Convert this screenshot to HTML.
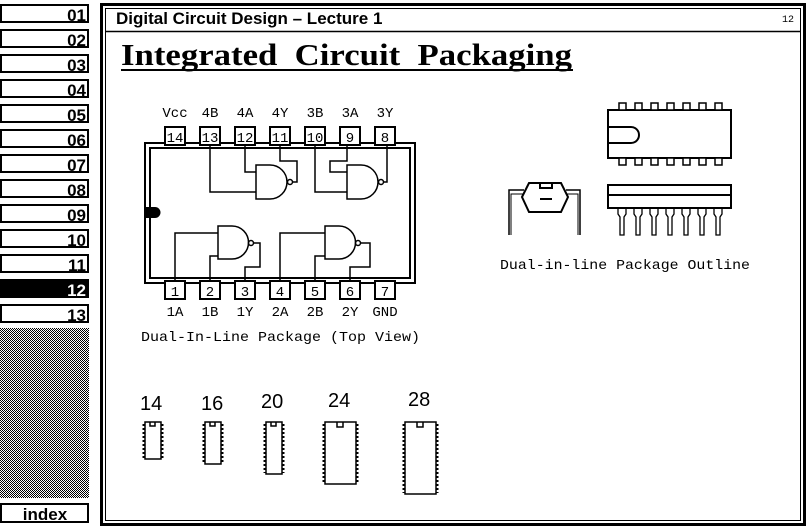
<!DOCTYPE html>
<html><head><meta charset="utf-8"><style>
html,body{margin:0;padding:0;background:#fff;}
svg{display:block;}
.m{font-family:"Liberation Mono",monospace;font-size:14px;}
</style></head><body>
<svg width="807" height="527" viewBox="0 0 807 527" xmlns="http://www.w3.org/2000/svg">
<defs>
<pattern id="chk" width="2" height="2" patternUnits="userSpaceOnUse">
<rect width="2" height="2" fill="#fff"/><rect width="1" height="1" fill="#000"/><rect x="1" y="1" width="1" height="1" fill="#000"/>
</pattern>
</defs>
<!-- sidebar -->
<g font-family="Liberation Sans, sans-serif" font-weight="bold" font-size="17" text-anchor="end" stroke="none">
<g fill="none" stroke="#000" stroke-width="2">
<rect x="1" y="5" width="87" height="17"/>
<rect x="1" y="30" width="87" height="17"/>
<rect x="1" y="55" width="87" height="17"/>
<rect x="1" y="80" width="87" height="17"/>
<rect x="1" y="105" width="87" height="17"/>
<rect x="1" y="130" width="87" height="17"/>
<rect x="1" y="155" width="87" height="17"/>
<rect x="1" y="180" width="87" height="17"/>
<rect x="1" y="205" width="87" height="17"/>
<rect x="1" y="230" width="87" height="17"/>
<rect x="1" y="255" width="87" height="17"/>
<rect x="1" y="305" width="87" height="17"/>
<rect x="1" y="504" width="87" height="18"/>
</g>
<rect x="0" y="279" width="89" height="19" fill="#000"/>
<rect x="0" y="328" width="89" height="170" fill="url(#chk)"/>
<text x="86" y="21">01</text>
<text x="86" y="46">02</text>
<text x="86" y="71">03</text>
<text x="86" y="96">04</text>
<text x="86" y="121">05</text>
<text x="86" y="146">06</text>
<text x="86" y="171">07</text>
<text x="86" y="196">08</text>
<text x="86" y="221">09</text>
<text x="86" y="246">10</text>
<text x="86" y="271">11</text>
<text x="86" y="296" fill="#fff">12</text>
<text x="86" y="321">13</text>
<text x="45" y="520" text-anchor="middle">index</text>
</g>
<!-- frame -->
<rect x="101.5" y="4.5" width="703" height="520" fill="none" stroke="#000" stroke-width="3"/>
<rect x="105.5" y="8.5" width="695" height="512" fill="none" stroke="#000" stroke-width="1"/>
<line x1="105" y1="31.5" x2="801" y2="31.5" stroke="#000" stroke-width="1.5"/>
<text x="116" y="24" font-family="Liberation Sans, sans-serif" font-weight="bold" font-size="17">Digital Circuit Design – Lecture 1</text>
<text x="794" y="22" font-family="Liberation Mono, monospace" font-size="10" text-anchor="end">12</text>
<text x="121" y="65" font-family="Liberation Serif, serif" font-weight="bold" font-size="31" xml:space="preserve" textLength="451" lengthAdjust="spacingAndGlyphs">Integrated  Circuit  Packaging</text>
<line x1="121" y1="70" x2="573" y2="70" stroke="#000" stroke-width="2"/>

<!-- main chip -->
<g fill="none" stroke="#000" stroke-width="2">
<rect x="145" y="143" width="270" height="140"/>
<rect x="150" y="148" width="260" height="130"/>
</g>
<path d="M145 207 h10 a5.5 5.5 0 0 1 0 11 h-10 z" fill="#000"/>
<g fill="#fff" stroke="#000" stroke-width="2">
<rect x="165" y="127" width="20" height="18"/><rect x="200" y="127" width="20" height="18"/><rect x="235" y="127" width="20" height="18"/><rect x="270" y="127" width="20" height="18"/><rect x="305" y="127" width="20" height="18"/><rect x="340" y="127" width="20" height="18"/><rect x="375" y="127" width="20" height="18"/>
<rect x="165" y="281" width="20" height="18"/><rect x="200" y="281" width="20" height="18"/><rect x="235" y="281" width="20" height="18"/><rect x="270" y="281" width="20" height="18"/><rect x="305" y="281" width="20" height="18"/><rect x="340" y="281" width="20" height="18"/><rect x="375" y="281" width="20" height="18"/>
</g>
<g class="m" text-anchor="middle">
<text x="175" y="142">14</text><text x="210" y="142">13</text><text x="245" y="142">12</text><text x="280" y="142">11</text><text x="315" y="142">10</text><text x="350" y="142">9</text><text x="385" y="142">8</text>
<text x="175" y="296">1</text><text x="210" y="296">2</text><text x="245" y="296">3</text><text x="280" y="296">4</text><text x="315" y="296">5</text><text x="350" y="296">6</text><text x="385" y="296">7</text>
<text x="175" y="117">Vcc</text><text x="210" y="117">4B</text><text x="245" y="117">4A</text><text x="280" y="117">4Y</text><text x="315" y="117">3B</text><text x="350" y="117">3A</text><text x="385" y="117">3Y</text>
<text x="175" y="316">1A</text><text x="210" y="316">1B</text><text x="245" y="316">1Y</text><text x="280" y="316">2A</text><text x="315" y="316">2B</text><text x="350" y="316">2Y</text><text x="385" y="316">GND</text>
</g>
<text x="141" y="341" class="m" textLength="279" lengthAdjust="spacingAndGlyphs">Dual-In-Line Package (Top View)</text>
<!-- gates -->
<g fill="none" stroke="#000" stroke-width="1.5">
<path d="M256 165 h14 a17 17 0 0 1 0 34 h-14 z"/><circle cx="290" cy="182" r="2.5"/>
<path d="M210 146 V192 H256 M245 146 V172 H256 M292.5 182 H297 V161 H280 V146"/>
<path d="M347 165 h14 a17 17 0 0 1 0 34 h-14 z"/><circle cx="381" cy="182" r="2.5"/>
<path d="M315 146 V192 H347 M347 146 V161 H330 V172 H347 M383.5 182 H387 V146"/>
<path d="M218 226 h14 a16.5 16.5 0 0 1 0 33 h-14 z"/><circle cx="251" cy="243" r="2.5"/>
<path d="M175 281 V233 H218 M210 281 V256 H218 M253.5 243 H260 V267 H245 V281"/>
<path d="M325 226 h14 a16.5 16.5 0 0 1 0 33 h-14 z"/><circle cx="358" cy="243" r="2.5"/>
<path d="M280 281 V233 H325 M315 281 V256 H325 M360.5 243 H370 V267 H350 V281"/>
</g>

<!-- outline top view -->
<g fill="none" stroke="#000" stroke-width="2">
<rect x="608" y="110" width="123" height="48"/>
<path d="M608 127 H631 a8 8 0 0 1 0 16 H608"/>
<path d="M608 185 H731 V208 H608 Z M608 195 H731"/>
<path d="M522 197 L529 183 H561 L568 197 L561 212 H529 Z"/>
<path d="M540 183 V188 H552 V183"/>
<path d="M540 199 H552"/>
<path d="M524 190 H509 V235 M566 190 H580 V235" stroke-width="1.5"/>
<path d="M511 235 V194 H524 M578 235 V194 H567" stroke-width="1"/>
</g>
<g fill="#fff" stroke="#000" stroke-width="1.5">
<rect x="619" y="103" width="7" height="7"/><rect x="635" y="103" width="7" height="7"/><rect x="651" y="103" width="7" height="7"/><rect x="667" y="103" width="7" height="7"/><rect x="683" y="103" width="7" height="7"/><rect x="699" y="103" width="7" height="7"/><rect x="715" y="103" width="7" height="7"/>
<rect x="619" y="158" width="7" height="7"/><rect x="635" y="158" width="7" height="7"/><rect x="651" y="158" width="7" height="7"/><rect x="667" y="158" width="7" height="7"/><rect x="683" y="158" width="7" height="7"/><rect x="699" y="158" width="7" height="7"/><rect x="715" y="158" width="7" height="7"/>
</g>
<g fill="none" stroke="#000" stroke-width="1.3">
<path d="M618 208 V214 L620 217 V235 H624 V217 L626 214 V208"/>
<path d="M634 208 V214 L636 217 V235 H640 V217 L642 214 V208"/>
<path d="M650 208 V214 L652 217 V235 H656 V217 L658 214 V208"/>
<path d="M666 208 V214 L668 217 V235 H672 V217 L674 214 V208"/>
<path d="M682 208 V214 L684 217 V235 H688 V217 L690 214 V208"/>
<path d="M698 208 V214 L700 217 V235 H704 V217 L706 214 V208"/>
<path d="M714 208 V214 L716 217 V235 H720 V217 L722 214 V208"/>
</g>
<text x="500" y="269" class="m" textLength="250" lengthAdjust="spacingAndGlyphs">Dual-in-line Package Outline</text>

<!-- package sizes -->
<g font-family="Liberation Sans, sans-serif" font-size="20">
<text x="140" y="410">14</text><text x="201" y="410">16</text><text x="261" y="408">20</text><text x="328" y="407">24</text><text x="408" y="406">28</text>
</g>
<g fill="none" stroke="#000" stroke-width="1.5">
<rect x="145" y="422" width="16" height="37"/><path d="M150 422 v4 h5 v-4"/>
<rect x="205" y="422" width="16" height="42"/><path d="M210 422 v4 h5 v-4"/>
<rect x="266" y="422" width="16" height="52"/><path d="M271 422 v4 h5 v-4"/>
<rect x="325" y="422" width="31" height="62"/><path d="M337 422 v5 h6 v-5"/>
<rect x="405" y="422" width="31" height="72"/><path d="M417 422 v5 h6 v-5"/>
</g>
<g fill="none" stroke="#000" stroke-width="3" stroke-dasharray="2 2">
<path d="M144 424 V458 M162 424 V458"/>
<path d="M204 424 V463 M222 424 V463"/>
<path d="M265 424 V473 M283 424 V473"/>
<path d="M324 424 V483 M357 424 V483"/>
<path d="M404 424 V493 M437 424 V493"/>
</g>
</svg>
</body></html>
